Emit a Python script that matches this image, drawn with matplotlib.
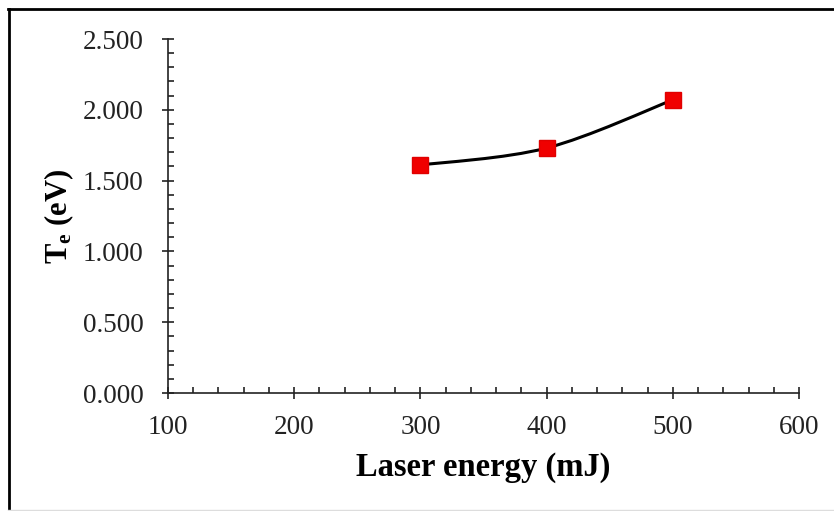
import numpy as np
import matplotlib
matplotlib.use("Agg")
import matplotlib.pyplot as plt
from matplotlib.path import Path
from matplotlib.patches import PathPatch
from matplotlib.lines import Line2D
from matplotlib.ticker import MultipleLocator, FormatStrFormatter

# data
energy_mj = [300, 400, 500]
te_ev = [1.61, 1.73, 2.07]

x_ticks = [100, 200, 300, 400, 500, 600]
y_ticks = [0.0, 0.5, 1.0, 1.5, 2.0, 2.5]

plt.rcParams["font.family"] = ["Liberation Serif", "DejaVu Serif"]
plt.rcParams["mathtext.fontset"] = "custom"
plt.rcParams["mathtext.rm"] = "Liberation Serif"
plt.rcParams["mathtext.bf"] = "Liberation Serif:bold"

W, H = 834, 511
fig = plt.figure(figsize=(W / 100, H / 100), dpi=100)
ax = fig.add_axes([168 / W, 1 - 393 / H, (799 - 168) / W, (393 - 39) / H])


def smooth_path(xs, ys):
    # Excel-like smoothed line: cubic Bezier segments (Catmull-Rom control points)
    pts = np.column_stack([xs, ys]).astype(float)
    ext = np.vstack([pts[0], pts, pts[-1]])
    verts = [pts[0]]
    codes = [Path.MOVETO]
    for i in range(1, len(ext) - 2):
        p0, p1, p2, p3 = ext[i - 1], ext[i], ext[i + 1], ext[i + 2]
        verts += [p1 + (p2 - p0) / 6, p2 - (p3 - p1) / 6, p2]
        codes += [Path.CURVE4] * 3
    return Path(verts, codes)


ax.add_patch(PathPatch(smooth_path(energy_mj, te_ev), fill=False,
                       edgecolor="black", lw=2.2, zorder=2))
ax.plot(energy_mj, te_ev, ls="none", marker="s", ms=11.5,
        color="#f00000", mec="#e00000", zorder=3)

ax.set_xlim(x_ticks[0], x_ticks[-1])
ax.set_ylim(y_ticks[0], y_ticks[-1])
ax.set_xticks(x_ticks)
ax.set_yticks(y_ticks)
ax.xaxis.set_minor_locator(MultipleLocator(20))
ax.yaxis.set_minor_locator(MultipleLocator(0.1))
ax.yaxis.set_major_formatter(FormatStrFormatter("%.3f"))

for s in ("top", "right"):
    ax.spines[s].set_visible(False)
for s in ("left", "bottom"):
    ax.spines[s].set_linewidth(1.2)
    ax.spines[s].set_color("#222222")

ax.tick_params(which="major", direction="inout", length=9, width=1.2,
               color="#222222", labelsize=19.5, labelcolor="#222222")
ax.tick_params(axis="y", which="major", pad=13)
ax.tick_params(axis="x", which="major", pad=11)
ax.tick_params(which="minor", direction="in", length=4.5, width=1.2,
               color="#222222")

ax.set_xlabel("Laser energy (mJ)", fontsize=23.5, fontweight="bold", labelpad=9)
ax.set_ylabel(r"$\mathbf{T_e}$ (eV)", fontsize=22, fontweight="bold",
              labelpad=5)

# frame around the picture (left/top dark, bottom faint)
fig.add_artist(Line2D([8.5 / W, 8.5 / W], [0, 1 - 9 / H],
                      transform=fig.transFigure, color="black", lw=2))
fig.add_artist(Line2D([8 / W, 1], [1 - 9.5 / H, 1 - 9.5 / H],
                      transform=fig.transFigure, color="black", lw=2))
fig.add_artist(Line2D([8 / W, 1], [1 - 509.5 / H, 1 - 509.5 / H],
                      transform=fig.transFigure, color="#dddddd", lw=1))

fig.savefig("out.png", dpi=100)
